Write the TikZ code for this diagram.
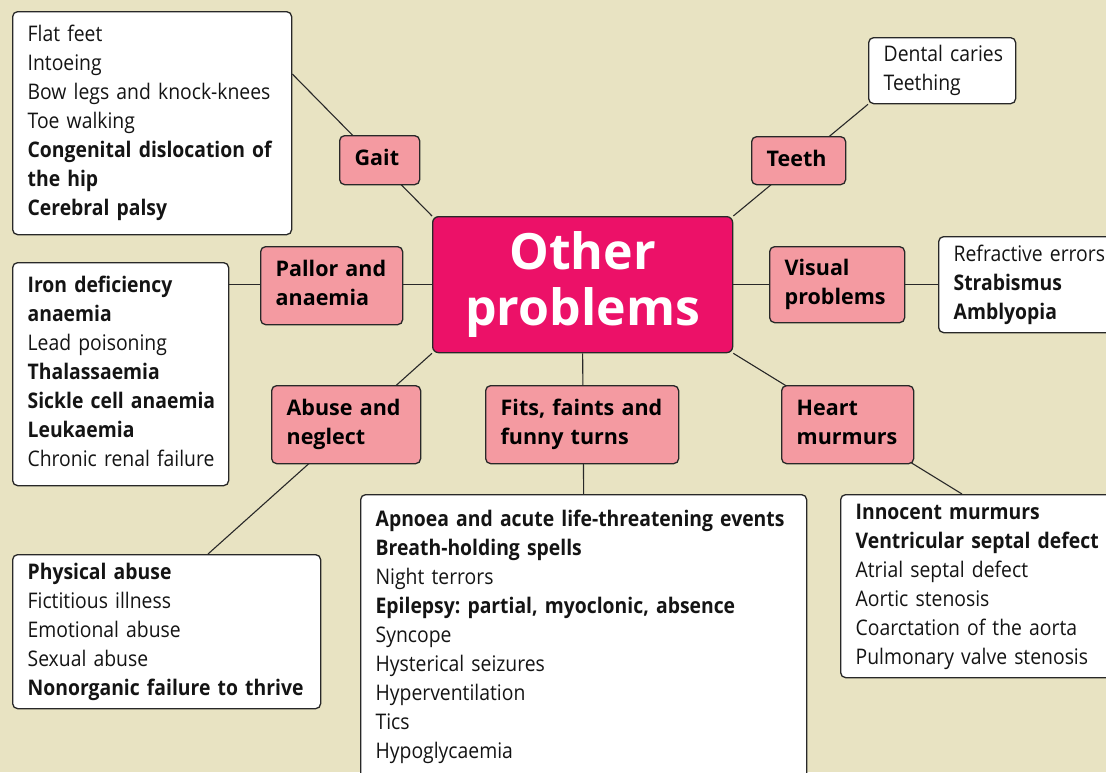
\documentclass[tikz,border=0pt]{standalone}
\usepackage{fontspec}
\setmainfont{Open Sans}[FakeStretch=0.9]
\newfontfamily\widefont{Open Sans}
\usetikzlibrary{backgrounds}
\frenchspacing

\definecolor{paper}{RGB}{232,227,194}
\definecolor{hubmag}{RGB}{236,17,104}
\definecolor{catpink}{RGB}{244,154,161}
\definecolor{edge}{RGB}{40,40,40}
\definecolor{ink}{RGB}{20,20,20}

\newcommand{\listsize}{\fontsize{21.5}{29}\selectfont}
% one unbreakable line per row
\newcommand{\rows}[1]{\begin{tabular}{@{}l@{}}#1\end{tabular}}

\tikzset{
  listbox/.style={draw=edge, fill=white, rounded corners=5pt, line width=1.3pt,
    anchor=north west, inner xsep=15pt, inner ysep=0pt, align=left,
    text=ink, font=\listsize},
  catbox/.style={draw=edge, fill=catpink, rounded corners=5pt, line width=1.3pt,
    anchor=north west, inner xsep=15pt, inner ysep=0pt, align=left,
    text=black, font=\widefont\listsize\bfseries},
  hubbox/.style={draw=edge, fill=hubmag, rounded corners=6pt, line width=1.3pt,
    anchor=north west, inner sep=0pt, align=center, text=white,
    font=\widefont\bfseries\fontsize{50}{56}\selectfont},
  link/.style={draw=edge, line width=1.1pt}
}

\begin{document}
\begin{tikzpicture}[x=1pt,y=-1pt]
\useasboundingbox (0,0) rectangle (1106,772);
\begin{scope}
\clip (0,0) rectangle (1106,772);

% central hub
\node[hubbox, minimum width=300pt, minimum height=136pt] (hub) at (432,216) {Other\\problems};

% category boxes
\node[catbox, text width=50pt,  minimum height=49pt] (gait)   at (339,135) {\rows{Gait}};
\node[catbox, text width=64pt,  minimum height=48pt] (teeth)  at (751,136) {\rows{Teeth}};
\node[catbox, text width=105pt, minimum height=76pt] (visual) at (769,246) {\rows{Visual\\problems}};
\node[catbox, text width=112pt, minimum height=78pt] (pallor) at (260,246) {\rows{Pallor and\\anaemia}};
\node[catbox, text width=119pt, minimum height=78pt] (abuse)  at (271,385) {\rows{Abuse and\\neglect}};
\node[catbox, text width=163pt, minimum height=78pt] (fits)   at (485,385) {\rows{Fits, faints and\\funny turns}};
\node[catbox, text width=102pt, minimum height=78pt] (heart)  at (781,385) {\rows{Heart\\murmurs}};

% lists of conditions
\node[listbox, text width=249pt, minimum height=223pt] (gaitl) at (12,11)
  {\rows{Flat feet\\Intoeing\\Bow legs and knock-knees\\Toe walking\\
   \textbf{Congenital dislocation of}\\\textbf{the hip}\\\textbf{Cerebral palsy}}};
\node[listbox, text width=117pt, minimum height=66pt] (teethl) at (868,37)
  {\rows{Dental caries\\Teething}};
\node[listbox, text width=200pt, minimum height=96pt] (visl) at (938,236)
  {\rows{Refractive errors\\\textbf{Strabismus}\\\textbf{Amblyopia}}};
\node[listbox, text width=186pt, minimum height=223pt] (pallorl) at (12,262)
  {\rows{\textbf{Iron deficiency}\\\textbf{anaemia}\\Lead poisoning\\\textbf{Thalassaemia}\\
   \textbf{Sickle cell anaemia}\\\textbf{Leukaemia}\\Chronic renal failure}};
\node[listbox, text width=278pt, minimum height=154pt] (abusel) at (12,554)
  {\rows{\textbf{Physical abuse}\\Fictitious illness\\Emotional abuse\\Sexual abuse\\
   \textbf{Nonorganic failure to thrive}}};
\node[listbox, text width=416pt, minimum height=284pt] (fitsl) at (360,494)
  {\rows{\textbf{Apnoea and acute life-threatening events}\\\textbf{Breath-holding spells}\\
   Night terrors\\\textbf{Epilepsy: partial, myoclonic, absence}\\Syncope\\
   Hysterical seizures\\Hyperventilation\\Tics\\Hypoglycaemia}};
\node[listbox, text width=260pt, minimum height=183pt] (heartl) at (840,494)
  {\rows{\textbf{Innocent murmurs}\\\textbf{Ventricular septal defect}\\Atrial septal defect\\
   Aortic stenosis\\Coarctation of the aorta\\Pulmonary valve stenosis}};
\end{scope}

% where the slanted links meet their lists
\coordinate (gaitend)  at (gaitl.east |- 0,74);
\coordinate (abuseend) at (208,554);
\coordinate (heartend) at (962,494);

\begin{scope}[on background layer]
  \fill[paper] (0,0) rectangle (1106,772);
  \draw[link] (hub.north west) -- (gaitend);
  \draw[link] (hub.north east) -- (teethl.south west);
  \draw[link] (hub.east) -- (visl.west);
  \draw[link] (hub.west) -- (hub.west -| pallorl.east);
  \draw[link] (hub.south west) -- (abuseend);
  \draw[link] (hub.south) -- (fitsl.north);
  \draw[link] (hub.south east) -- (heartend);
\end{scope}
\end{tikzpicture}
\end{document}
